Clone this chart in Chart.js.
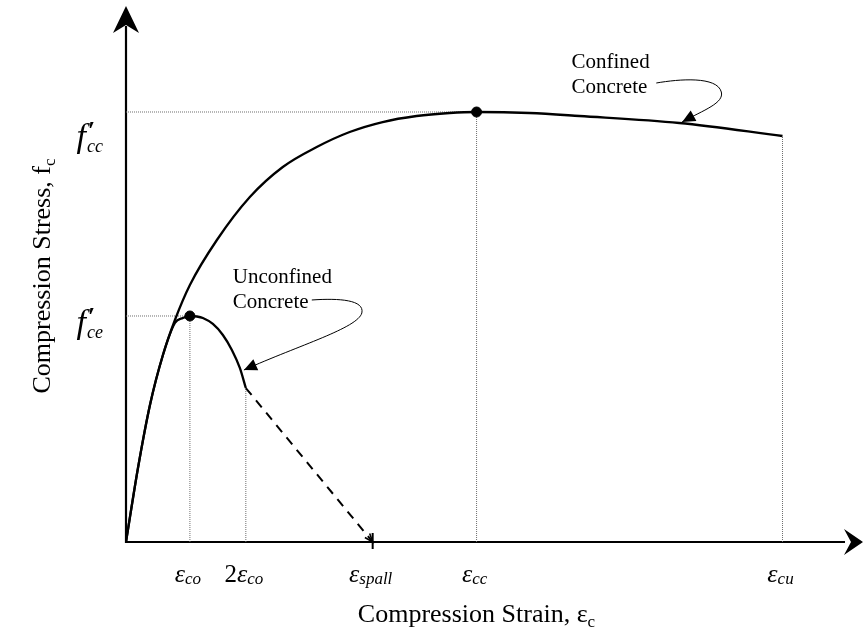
<!DOCTYPE html>
<html><head><meta charset="utf-8">
<script src="https://cdn.jsdelivr.net/npm/chart.js@4.4.1/dist/chart.umd.min.js"></script>
<style>html,body{margin:0;padding:0;background:#fff;overflow:hidden}#wrap{width:865px;height:634px;position:relative}</style>
</head><body><div id="wrap"><canvas id="c" width="865" height="634"></canvas></div>
<script>
// ---- data (strain, normalised stress) ----
const confinedStrain = [0, 0.000376, 0.000752, 0.001159, 0.001535, 0.002005, 0.002852, 0.003886, 0.00492, 0.005985, 0.007019, 0.008053, 0.009118, 0.010153, 0.0110, 0.01266, 0.01423, 0.01736, 0.0206];
const confinedStress = [0, 0.1721, 0.3186, 0.4349, 0.5163, 0.5977, 0.7023, 0.8023, 0.8721, 0.9186, 0.9535, 0.9767, 0.9907, 0.9977, 1.0, 0.9977, 0.9907, 0.9744, 0.9442];
const unconfinedStrain = [0, 0.000376, 0.000752, 0.001159, 0.001535, 0.001786, 0.002005, 0.002225, 0.002413, 0.002726, 0.00304, 0.003322, 0.003572, 0.00376];
const unconfinedStress = [0, 0.1721, 0.3186, 0.4349, 0.5093, 0.5209, 0.5256, 0.5244, 0.5209, 0.507, 0.4814, 0.4465, 0.4047, 0.3581];
const spallStrain = [0.00376, 0.00774];
const spallStress = [0.3581, 0];
const peakStrain = [0.002005, 0.0110];
const peakStress = [0.5256, 1.0];
const tickStrains = [0.002005, 0.00376, 0.00774, 0.0110, 0.0206];
const tickPrefix = ['', '2', '', '', ''];
const tickSymbol = ['ε', 'ε', 'ε', 'ε', 'ε'];
const tickSub = ['co', 'co', 'spall', 'cc', 'cu'];
const guideTops = [0.5256, 0.3581, null, 1.0, 0.9442];
const stressLevels = [1.0, 0.5256];
const stressLevelStrain = [0.0110, 0.002005];
const stressMain = ['f', 'f'];
const stressSup = ['′', '′'];
const stressSub = ['cc', 'ce'];
const xTitle = 'Compression Strain, ';
const xTitleSym = 'ε';
const xTitleSub = 'c';
const yTitle = 'Compression Stress, f';
const yTitleSub = 'c';
const noteConfined = ['Confined', 'Concrete'];
const noteUnconfined = ['Unconfined', 'Concrete'];

// annotation anchors in data units
const confinedNote = { text: [0.01398, 1.1023], path: [[0.01664,1.0674],[0.01736,1.0767],[0.01855,1.0837],[0.01868,1.0465],[0.01877,1.0209],[0.01814,1.0047],[0.01745,0.977]] };
const unconfinedNote = { text: [0.00335, 0.6023], path: [[0.00583,0.5628],[0.00671,0.5674],[0.00749,0.5628],[0.00740,0.5326],[0.00727,0.4977],[0.00545,0.4581],[0.00370,0.400]] };

const pts = (xs, ys) => xs.map((x, i) => ({ x, y: ys[i] }));
const guideColor = '#6e6e6e';
const datasets = [];
tickStrains.forEach((s, i) => {
  if (guideTops[i] == null) return;
  datasets.push({ data: pts([s, s], [0, guideTops[i]]), showLine: true, borderColor: guideColor, borderWidth: 1, borderDash: [1, 1], pointRadius: 0, order: 5 });
});
stressLevels.forEach((v, i) => {
  datasets.push({ data: pts([0, stressLevelStrain[i]], [v, v]), showLine: true, borderColor: guideColor, borderWidth: 1, borderDash: [1, 1], pointRadius: 0, order: 5 });
});
datasets.push({ data: pts(confinedStrain, confinedStress), showLine: true, borderColor: '#000', borderWidth: 2.3, pointRadius: 0, cubicInterpolationMode: 'monotone', order: 2 });
datasets.push({ data: pts(unconfinedStrain, unconfinedStress), showLine: true, borderColor: '#000', borderWidth: 2.3, pointRadius: 0, cubicInterpolationMode: 'monotone', order: 2 });
datasets.push({ data: pts(spallStrain, spallStress), showLine: true, borderColor: '#000', borderWidth: 2, borderDash: [9, 7], pointRadius: 0, order: 2 });
datasets.push({ data: pts(peakStrain, peakStress), showLine: false, pointRadius: 5, pointBackgroundColor: '#000', pointBorderColor: '#000', order: 1 });

const SERIF = '"Liberation Serif", "Times New Roman", serif';

function richText(ctx, parts, x, y, align) {
  let w = 0;
  parts.forEach(p => { ctx.font = p.font; w += ctx.measureText(p.t).width; });
  let cx = align === 'center' ? x - w / 2 : align === 'right' ? x - w : x;
  parts.forEach(p => { ctx.font = p.font; ctx.textAlign = 'left'; ctx.fillText(p.t, cx, y + (p.dy || 0)); cx += ctx.measureText(p.t).width; });
}
function arrowHead(ctx, tx, ty, fx, fy, len, half) {
  const a = Math.atan2(ty - fy, tx - fx);
  ctx.beginPath();
  ctx.moveTo(tx, ty);
  ctx.lineTo(tx - len * Math.cos(a) + half * Math.sin(a), ty - len * Math.sin(a) - half * Math.cos(a));
  ctx.lineTo(tx - len * Math.cos(a) - half * Math.sin(a), ty - len * Math.sin(a) + half * Math.cos(a));
  ctx.closePath(); ctx.fill();
}

const decor = {
  id: 'decor',
  beforeDatasetsDraw(chart) {
    const { ctx, chartArea: a, scales: { x, y } } = chart;
    const x0 = x.getPixelForValue(0), y0 = y.getPixelForValue(0);
    ctx.save();
    ctx.strokeStyle = '#000'; ctx.fillStyle = '#000'; ctx.lineWidth = 2.2;
    ctx.beginPath(); ctx.moveTo(x0, y0 + 1); ctx.lineTo(x0, a.top + 20); ctx.stroke();
    ctx.beginPath(); ctx.moveTo(x0, a.top); ctx.lineTo(x0 - 13, a.top + 27); ctx.lineTo(x0, a.top + 19); ctx.lineTo(x0 + 13, a.top + 27); ctx.closePath(); ctx.fill();
    const xr = a.right + 4;
    ctx.beginPath(); ctx.moveTo(x0 - 1, y0); ctx.lineTo(xr - 18, y0); ctx.stroke();
    ctx.beginPath(); ctx.moveTo(xr, y0); ctx.lineTo(xr - 19, y0 - 13); ctx.lineTo(xr - 12, y0); ctx.lineTo(xr - 19, y0 + 13); ctx.closePath(); ctx.fill();
    const xs = x.getPixelForValue(spallStrain[1]);
    ctx.lineWidth = 2;
    ctx.beginPath(); ctx.moveTo(xs, y0 - 9); ctx.lineTo(xs, y0 + 7); ctx.stroke();
    ctx.restore();
  },
  afterDatasetsDraw(chart) {
    const { ctx, chartArea: a, scales: { x, y } } = chart;
    const y0 = y.getPixelForValue(0);
    ctx.save();
    ctx.fillStyle = '#000'; ctx.strokeStyle = '#000';
    ctx.textBaseline = 'alphabetic';
    const sx = x.getPixelForValue(spallStrain[1]), sy = y.getPixelForValue(spallStress[1]);
    const fx = x.getPixelForValue(spallStrain[0]), fy = y.getPixelForValue(spallStress[0]);
    const ang = Math.atan2(sy - fy, sx - fx);
    ctx.lineWidth = 1.6;
    ctx.beginPath();
    ctx.moveTo(sx - 9 * Math.cos(ang - 0.35), sy - 9 * Math.sin(ang - 0.35));
    ctx.lineTo(sx, sy);
    ctx.lineTo(sx - 9 * Math.cos(ang + 0.35), sy - 9 * Math.sin(ang + 0.35));
    ctx.stroke();
    tickStrains.forEach((s, i) => {
      const px = x.getPixelForValue(s);
      const parts = [];
      if (tickPrefix[i]) parts.push({ t: tickPrefix[i], font: '25px ' + SERIF });
      parts.push({ t: tickSymbol[i], font: 'italic 26px ' + SERIF });
      parts.push({ t: tickSub[i], font: 'italic 17px ' + SERIF, dy: 2 });
      richText(ctx, parts, px - 2, y0 + 40, 'center');
    });
    richText(ctx, [{ t: xTitle, font: '26px ' + SERIF }, { t: xTitleSym, font: '26px ' + SERIF }, { t: xTitleSub, font: '17px ' + SERIF, dy: 5 }], (a.left + a.right) / 2 - 16, y0 + 80, 'center');
    ctx.save();
    ctx.translate(a.left - 76, (a.top + y0) / 2 + 2);
    ctx.rotate(-Math.PI / 2);
    richText(ctx, [{ t: yTitle, font: '26px ' + SERIF }, { t: yTitleSub, font: '17px ' + SERIF, dy: 5 }], 0, 0, 'center');
    ctx.restore();
    // stress labels: f with prime (superscript) and subscript
    const dys = [35, 17];
    stressLevels.forEach((v, i) => {
      const py = y.getPixelForValue(v) + dys[i];
      ctx.textAlign = 'left';
      ctx.font = 'italic 18px ' + SERIF; const wSub = ctx.measureText(stressSub[i]).width;
      ctx.font = 'italic 34px ' + SERIF; const wF = ctx.measureText(stressMain[i]).width;
      const right = a.left - 23;
      const xSub = right - wSub;
      const xf = xSub - wF - 1;
      ctx.fillText(stressMain[i], xf, py);
      ctx.font = 'bold 26px ' + SERIF; ctx.fillText(stressSup[i], xSub + 1, py - 8);
      ctx.font = 'italic 18px ' + SERIF; ctx.fillText(stressSub[i], xSub, py + 5);
    });
    const drawNote = (note, lines) => {
      const tx = x.getPixelForValue(note.text[0]), ty = y.getPixelForValue(note.text[1]);
      ctx.font = '21px ' + SERIF; ctx.textAlign = 'left';
      lines.forEach((l, k) => ctx.fillText(l, tx, ty + k * 25));
      const p = note.path.map(q => [x.getPixelForValue(q[0]), y.getPixelForValue(q[1])]);
      ctx.lineWidth = 1;
      ctx.beginPath(); ctx.moveTo(p[0][0], p[0][1]);
      ctx.bezierCurveTo(p[1][0], p[1][1], p[2][0], p[2][1], p[3][0], p[3][1]);
      ctx.bezierCurveTo(p[4][0], p[4][1], p[5][0], p[5][1], p[6][0], p[6][1]);
      ctx.stroke();
      arrowHead(ctx, p[6][0], p[6][1], p[5][0], p[5][1], 13, 6);
    };
    drawNote(confinedNote, noteConfined);
    drawNote(unconfinedNote, noteUnconfined);
    ctx.restore();
  }
};

new Chart(document.getElementById('c'), {
  type: 'scatter',
  data: { datasets },
  options: {
    responsive: false, animation: false, devicePixelRatio: 1,
    layout: { padding: { left: 126, right: 5, top: 6, bottom: 92 } },
    scales: {
      x: { type: 'linear', min: 0, max: 0.023, display: false },
      y: { type: 'linear', min: 0, max: 1.2465, display: false }
    },
    plugins: { legend: { display: false }, tooltip: { enabled: false } },
    elements: { line: { fill: false } }
  },
  plugins: [decor]
});
</script></body></html>
